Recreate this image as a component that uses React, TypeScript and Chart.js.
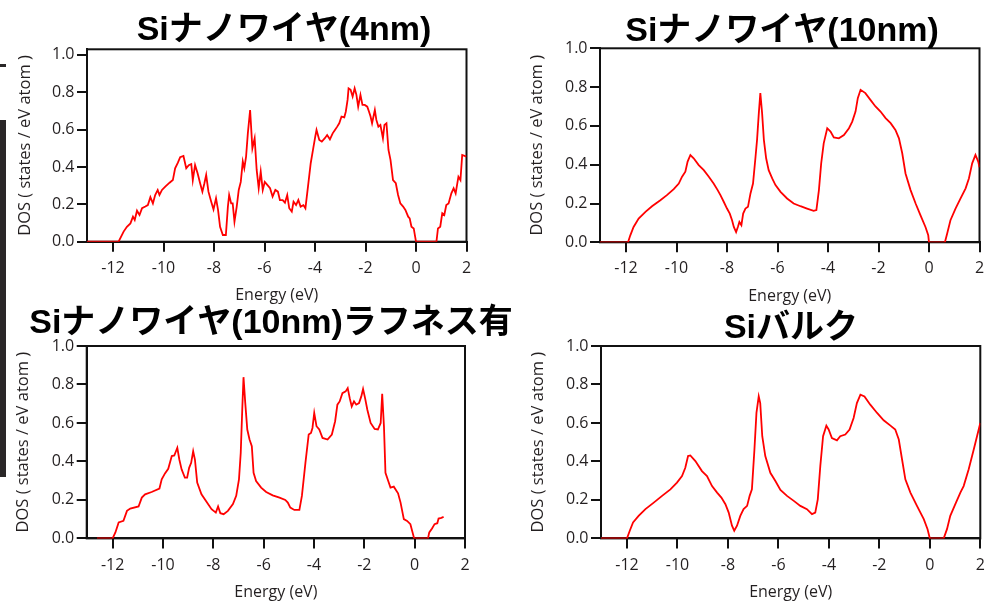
import React, { useEffect, useRef } from "react";
import { Chart, registerables } from "chart.js";

Chart.register(...registerables);

// ---------- data ----------
const xTicks = [-12, -10, -8, -6, -4, -2, 0, 2];
const yTicks = [0, 0.2, 0.4, 0.6, 0.8, 1.0];
const panelTitles = ["Siナノワイヤ(4nm)", "Siナノワイヤ(10nm)", "Siナノワイヤ(10nm)ラフネス有", "Siバルク"];
const xAxisTitle = "Energy (eV)";
const yAxisTitle = "DOS ( states / eV atom )";

const nw4Energy = [-13.03, -11.78, -11.58, -11.45, -11.31, -11.21, -11.14, -11.05, -10.95, -10.85, -10.72, -10.62, -10.52, -10.42, -10.33, -10.23, -10.16, -10.06, -9.93, -9.76, -9.63, -9.54, -9.43, -9.34, -9.21, -9.1, -9.0, -8.9, -8.84, -8.75, -8.65, -8.55, -8.46, -8.38, -8.31, -8.22, -8.11, -8.02, -7.92, -7.84, -7.76, -7.65, -7.53, -7.45, -7.4, -7.32, -7.26, -7.19, -7.1, -7.02, -6.94, -6.86, -6.8, -6.73, -6.66, -6.57, -6.48, -6.39, -6.31, -6.23, -6.15, -6.07, -5.99, -5.89, -5.78, -5.68, -5.57, -5.47, -5.39, -5.28, -5.19, -5.1, -5.02, -4.92, -4.85, -4.75, -4.66, -4.57, -4.46, -4.38, -4.27, -4.17, -4.07, -3.99, -3.94, -3.83, -3.73, -3.61, -3.52, -3.41, -3.3, -3.21, -3.12, -3.04, -2.95, -2.84, -2.78, -2.71, -2.67, -2.59, -2.51, -2.43, -2.36, -2.29, -2.2, -2.12, -2.03, -1.93, -1.86, -1.8, -1.74, -1.63, -1.57, -1.49, -1.41, -1.31, -1.25, -1.17, -1.09, -1.01, -0.91, -0.8, -0.71, -0.62, -0.51, -0.42, -0.31, -0.25, -0.18, -0.09, 0.0, 0.81, 0.87, 0.96, 1.04, 1.12, 1.2, 1.29, 1.4, 1.49, 1.57, 1.68, 1.76, 1.83, 2.0];
const nw4Dos = [0, 0, 0.054, 0.08, 0.098, 0.134, 0.116, 0.166, 0.143, 0.179, 0.188, 0.196, 0.238, 0.205, 0.25, 0.277, 0.25, 0.277, 0.295, 0.316, 0.33, 0.393, 0.423, 0.452, 0.459, 0.393, 0.41, 0.416, 0.33, 0.41, 0.366, 0.313, 0.268, 0.313, 0.357, 0.268, 0.214, 0.173, 0.232, 0.17, 0.08, 0.036, 0.036, 0.188, 0.25, 0.205, 0.205, 0.107, 0.188, 0.277, 0.32, 0.43, 0.393, 0.455, 0.58, 0.705, 0.5, 0.554, 0.384, 0.286, 0.375, 0.277, 0.32, 0.304, 0.286, 0.241, 0.277, 0.268, 0.223, 0.223, 0.209, 0.25, 0.179, 0.161, 0.214, 0.196, 0.223, 0.188, 0.196, 0.179, 0.304, 0.42, 0.5, 0.563, 0.598, 0.545, 0.536, 0.554, 0.571, 0.548, 0.58, 0.598, 0.616, 0.634, 0.67, 0.666, 0.696, 0.759, 0.821, 0.813, 0.777, 0.821, 0.786, 0.723, 0.786, 0.732, 0.732, 0.723, 0.696, 0.67, 0.634, 0.705, 0.652, 0.616, 0.625, 0.554, 0.625, 0.634, 0.491, 0.438, 0.33, 0.313, 0.25, 0.205, 0.188, 0.17, 0.134, 0.125, 0.08, 0.071, 0, 0, 0.071, 0.08, 0.152, 0.143, 0.196, 0.205, 0.259, 0.286, 0.259, 0.348, 0.33, 0.464, 0.455];

const nw10Energy = [-13.03, -11.92, -11.83, -11.7, -11.5, -11.23, -10.97, -10.64, -10.38, -10.11, -9.91, -9.78, -9.65, -9.56, -9.45, -9.32, -9.12, -8.92, -8.72, -8.53, -8.37, -8.26, -8.13, -8.0, -7.89, -7.8, -7.73, -7.64, -7.57, -7.51, -7.43, -7.36, -7.27, -7.17, -7.07, -6.97, -6.87, -6.81, -6.74, -6.68, -6.61, -6.54, -6.45, -6.35, -6.21, -6.08, -5.88, -5.62, -5.36, -5.09, -4.83, -4.57, -4.46, -4.36, -4.27, -4.17, -4.03, -3.9, -3.77, -3.57, -3.37, -3.17, -3.04, -2.91, -2.82, -2.71, -2.52, -2.32, -2.12, -1.92, -1.72, -1.52, -1.33, -1.19, -1.06, -0.93, -0.73, -0.53, -0.34, -0.14, -0.03, 0.0, 0.63, 0.72, 0.85, 1.05, 1.25, 1.45, 1.58, 1.71, 1.84, 1.95, 2.0];
const nw10Dos = [0, 0, 0.036, 0.079, 0.122, 0.157, 0.186, 0.217, 0.243, 0.274, 0.303, 0.338, 0.364, 0.416, 0.45, 0.433, 0.398, 0.372, 0.338, 0.303, 0.269, 0.243, 0.209, 0.174, 0.148, 0.114, 0.079, 0.053, 0.079, 0.105, 0.088, 0.148, 0.174, 0.183, 0.252, 0.303, 0.441, 0.528, 0.666, 0.769, 0.666, 0.528, 0.433, 0.372, 0.329, 0.295, 0.26, 0.226, 0.2, 0.186, 0.174, 0.162, 0.166, 0.269, 0.407, 0.51, 0.588, 0.571, 0.541, 0.536, 0.553, 0.588, 0.622, 0.674, 0.743, 0.786, 0.769, 0.734, 0.7, 0.674, 0.64, 0.614, 0.579, 0.536, 0.459, 0.355, 0.269, 0.2, 0.14, 0.079, 0.036, 0, 0, 0.045, 0.114, 0.174, 0.226, 0.278, 0.329, 0.407, 0.45, 0.416, 0.386];

const roughEnergy = [-12.62, -12.0, -11.89, -11.76, -11.57, -11.43, -11.3, -10.97, -10.84, -10.71, -10.45, -10.14, -10.05, -9.92, -9.79, -9.65, -9.55, -9.43, -9.35, -9.26, -9.13, -9.04, -8.96, -8.88, -8.8, -8.73, -8.64, -8.47, -8.27, -8.07, -7.9, -7.81, -7.72, -7.59, -7.42, -7.22, -7.09, -6.98, -6.91, -6.85, -6.8, -6.73, -6.65, -6.56, -6.47, -6.4, -6.3, -6.1, -5.9, -5.64, -5.37, -5.14, -5.04, -4.94, -4.78, -4.58, -4.48, -4.34, -4.21, -4.12, -4.06, -3.99, -3.9, -3.79, -3.66, -3.46, -3.29, -3.16, -3.07, -2.98, -2.87, -2.74, -2.66, -2.58, -2.5, -2.41, -2.32, -2.21, -2.12, -2.05, -1.97, -1.88, -1.75, -1.59, -1.46, -1.35, -1.29, -1.22, -1.16, -1.05, -0.96, -0.83, -0.66, -0.56, -0.43, -0.3, -0.17, -0.02, 0.53, 0.58, 0.69, 0.79, 0.9, 0.95, 1.06, 1.15];
const roughDos = [0, 0, 0.031, 0.083, 0.091, 0.143, 0.155, 0.166, 0.212, 0.229, 0.241, 0.259, 0.307, 0.338, 0.362, 0.428, 0.431, 0.471, 0.41, 0.359, 0.316, 0.316, 0.367, 0.393, 0.453, 0.41, 0.29, 0.229, 0.19, 0.152, 0.134, 0.166, 0.131, 0.126, 0.143, 0.178, 0.221, 0.307, 0.445, 0.669, 0.838, 0.703, 0.566, 0.514, 0.479, 0.341, 0.298, 0.264, 0.241, 0.224, 0.212, 0.2, 0.186, 0.16, 0.148, 0.148, 0.221, 0.393, 0.54, 0.548, 0.574, 0.652, 0.583, 0.566, 0.522, 0.514, 0.54, 0.609, 0.695, 0.712, 0.755, 0.764, 0.781, 0.729, 0.686, 0.712, 0.695, 0.703, 0.738, 0.776, 0.729, 0.669, 0.6, 0.569, 0.566, 0.6, 0.752, 0.583, 0.341, 0.298, 0.264, 0.269, 0.234, 0.186, 0.1, 0.091, 0.074, 0, 0, 0.031, 0.052, 0.074, 0.079, 0.103, 0.107, 0.112];

const bulkEnergy = [-13.03, -12.0, -11.89, -11.76, -11.54, -11.27, -10.94, -10.61, -10.28, -10.02, -9.82, -9.69, -9.58, -9.49, -9.29, -9.03, -8.83, -8.63, -8.43, -8.26, -8.1, -7.97, -7.84, -7.75, -7.64, -7.51, -7.38, -7.24, -7.14, -7.05, -6.95, -6.87, -6.78, -6.72, -6.64, -6.52, -6.32, -6.12, -5.92, -5.66, -5.39, -5.13, -4.87, -4.67, -4.54, -4.44, -4.34, -4.23, -4.1, -4.01, -3.88, -3.68, -3.55, -3.35, -3.18, -3.02, -2.89, -2.75, -2.59, -2.36, -2.09, -1.83, -1.56, -1.37, -1.23, -1.1, -0.97, -0.77, -0.51, -0.24, -0.09, 0.0, 0.55, 0.68, 0.81, 1.01, 1.21, 1.34, 1.54, 1.74, 1.87, 2.0];
const bulkDos = [0, 0, 0.04, 0.083, 0.117, 0.152, 0.186, 0.221, 0.255, 0.29, 0.324, 0.367, 0.428, 0.431, 0.402, 0.35, 0.324, 0.272, 0.238, 0.212, 0.178, 0.134, 0.066, 0.04, 0.066, 0.117, 0.152, 0.169, 0.221, 0.255, 0.462, 0.652, 0.738, 0.703, 0.531, 0.428, 0.341, 0.298, 0.252, 0.221, 0.195, 0.169, 0.152, 0.126, 0.134, 0.203, 0.376, 0.531, 0.586, 0.566, 0.522, 0.51, 0.531, 0.54, 0.566, 0.626, 0.703, 0.747, 0.738, 0.695, 0.652, 0.614, 0.586, 0.566, 0.514, 0.41, 0.307, 0.238, 0.169, 0.1, 0.048, 0, 0, 0.048, 0.117, 0.178, 0.238, 0.272, 0.359, 0.462, 0.531, 0.6];

// ---------- layout (page pixels) ----------
type Panel = {
  canvas: { x: number; y: number; w: number; h: number };
  box: { l: number; t: number; r: number; b: number };
  yMax: number;
  yTitleX: number;
  titleX: number;
  titleY: number;
  energy: number[];
  dos: number[];
  title: string;
};

const X_MIN = -13.03;
const X_MAX = 2;

const panels: Panel[] = [
  { canvas: { x: 0, y: 0, w: 497, h: 310 }, box: { l: 87, t: 49.3, r: 466.5, b: 241.7 }, yMax: 1.03, yTitleX: 25, titleX: 284, titleY: 40, energy: nw4Energy, dos: nw4Dos, title: panelTitles[0] },
  { canvas: { x: 497, y: 0, w: 497, h: 310 }, box: { l: 600, t: 48.3, r: 979.5, b: 242.3 }, yMax: 1.0, yTitleX: 537, titleX: 782, titleY: 40.5, energy: nw10Energy, dos: nw10Dos, title: panelTitles[1] },
  { canvas: { x: 0, y: 300, w: 520, h: 302 }, box: { l: 86.7, t: 346, r: 465, b: 539.3 }, yMax: 1.0, yTitleX: 23.7, titleX: 271, titleY: 333, energy: roughEnergy, dos: roughDos, title: panelTitles[2] },
  { canvas: { x: 497, y: 300, w: 497, h: 302 }, box: { l: 601, t: 346, r: 980.3, b: 539.3 }, yMax: 1.0, yTitleX: 538.7, titleX: 791, titleY: 338, energy: bulkEnergy, dos: bulkDos, title: panelTitles[3] },
];

const TEXT = "#231f20";
const AXIS_FONT = { family: "'Open Sans', 'DejaVu Sans', sans-serif", size: 16 };
const Y_TITLE_FONT = { family: "'Open Sans', 'DejaVu Sans', sans-serif", size: 16.5 };
const X_TITLE_GAP = 54; // distance from plot bottom to x-title centre
const FONT_HALF = 9.6;

const framePlugin = {
  id: "frame",
  beforeDatasetsDraw(chart: any) {
    const { ctx, chartArea: a } = chart;
    ctx.save();
    ctx.strokeStyle = "#111";
    ctx.lineWidth = 2;
    ctx.strokeRect(a.left, a.top, a.right - a.left, a.bottom - a.top);
    ctx.restore();
  },
};

const titlePlugin = {
  id: "panelTitle",
  afterDraw(chart: any, _args: any, opts: any) {
    const ctx = chart.ctx;
    ctx.save();
    ctx.font = opts.font;
    ctx.fillStyle = opts.color;
    ctx.textAlign = "center";
    ctx.textBaseline = "alphabetic";
    ctx.fillText(opts.text, opts.x, opts.y);
    ctx.restore();
  },
};

function DosPanel({ p }: { p: Panel }) {
  const ref = useRef<HTMLCanvasElement | null>(null);
  useEffect(() => {
    if (!ref.current) return;
    const { canvas: c, box } = p;
    const xH = X_TITLE_GAP + FONT_HALF;
    const chart = new Chart(ref.current, {
      type: "line",
      data: {
        datasets: [
          {
            data: p.energy.map((e, i) => ({ x: e, y: p.dos[i] })),
            borderColor: "#ff0000",
            borderWidth: 1.8,
            pointRadius: 0,
            tension: 0,
            fill: false,
          },
        ],
      },
      options: {
        animation: false,
        responsive: false,
        maintainAspectRatio: false,
        devicePixelRatio: 1,
        layout: {
          padding: {
            left: 0,
            top: box.t - c.y,
            right: c.x + c.w - box.r,
            bottom: Math.max(0, c.y + c.h - box.b - xH),
          },
        },
        plugins: {
          legend: { display: false },
          tooltip: { enabled: false },
          title: { display: false },
          panelTitle: {
            text: p.title,
            x: p.titleX - c.x,
            y: p.titleY - c.y,
            font: "bold 34px 'Liberation Sans', 'Noto Sans CJK JP', sans-serif",
            color: "#000",
          },
        } as any,
        scales: {
          x: {
            type: "linear",
            min: X_MIN,
            max: X_MAX,
            afterBuildTicks: (axis: any) => {
              axis.ticks = xTicks.map((v) => ({ value: v }));
            },
            afterFit: (scale: any) => {
              scale.height = xH;
            },
            ticks: {
              color: TEXT,
              font: AXIS_FONT,
              padding: 7,
              maxRotation: 0,
              autoSkip: false,
              callback: (v: any) => String(v),
            },
            grid: { drawOnChartArea: false, drawTicks: true, tickLength: 10, color: "#111", lineWidth: 2 },
            border: { display: true, color: "#111", width: 2 },
            title: { display: true, text: xAxisTitle, color: TEXT, font: AXIS_FONT, padding: { top: 0, bottom: 0 } },
          },
          y: {
            type: "linear",
            min: 0,
            max: p.yMax,
            afterBuildTicks: (axis: any) => {
              axis.ticks = yTicks.map((v) => ({ value: v }));
            },
            afterFit: (scale: any) => {
              scale.width = box.l - c.x;
            },
            ticks: {
              color: TEXT,
              font: AXIS_FONT,
              padding: 2.5,
              autoSkip: false,
              callback: (v: any) => Number(v).toFixed(1),
            },
            grid: { drawOnChartArea: false, drawTicks: true, tickLength: 10, color: "#111", lineWidth: 2 },
            border: { display: true, color: "#111", width: 2 },
            title: {
              display: true,
              text: yAxisTitle,
              color: TEXT,
              font: Y_TITLE_FONT,
              padding: { top: p.yTitleX - c.x - 9.9, bottom: 0 },
            },
          },
        },
      } as any,
      plugins: [framePlugin, titlePlugin],
    });
    return () => chart.destroy();
  }, [p]);
  return (
    <canvas
      ref={ref}
      width={p.canvas.w}
      height={p.canvas.h}
      style={{ position: "absolute", left: p.canvas.x, top: p.canvas.y, width: p.canvas.w, height: p.canvas.h }}
    />
  );
}

export default function App() {
  return (
    <div style={{ position: "absolute", left: 0, top: 0, width: 994, height: 602, background: "#fff", overflow: "hidden" }}>
      <div style={{ position: "absolute", left: 0, top: 120, width: 6, height: 357, background: "#2a2728" }} />
      <div style={{ position: "absolute", left: 0, top: 64, width: 6, height: 3, background: "#2a2728" }} />
      {panels.map((p, i) => (
        <DosPanel key={i} p={p} />
      ))}
    </div>
  );
}
